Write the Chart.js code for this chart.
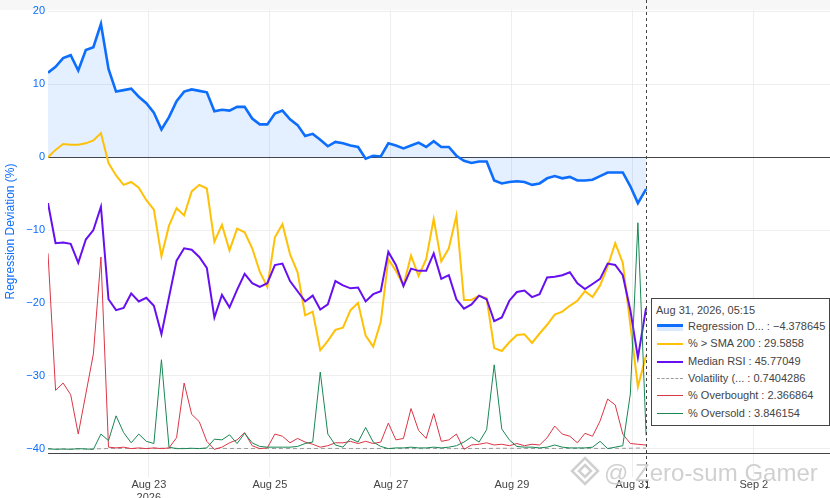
<!DOCTYPE html>
<html>
<head>
<meta charset="utf-8">
<script src="https://cdn.jsdelivr.net/npm/chart.js@4.4.1/dist/chart.umd.min.js"></script>
<style>
  body { margin: 0; background: #fff; }
  #wrap { position: relative; width: 830px; height: 498px; overflow: hidden; font-family: "Liberation Sans", Arial, sans-serif; }
  #topband { position: absolute; left: 0; top: 0; width: 830px; height: 10px; background: #f7f7f7; }
  #chart { position: absolute; left: 0; top: 0; }
  #hover { position: absolute; left: 651px; top: 298px; width: 177px; height: 126px; background: #fff;
           border: 1px solid #444; color: #444; font-size: 11px; }
  #hover .title { position: absolute; left: 4px; top: 3px; line-height: 16px; white-space: nowrap; }
  #hover .row { position: absolute; left: 0; height: 17px; line-height: 17px; white-space: nowrap; }
  #hover .sw { position: absolute; left: 5px; top: 8px; width: 26px; }
  #hover .txt { position: absolute; left: 36px; top: 0; }
  #mark { position: absolute; left: 570px; top: 456px; color: rgba(150,150,150,0.45); font-size: 24px;
          white-space: nowrap; text-shadow: 0 0 1px rgba(255,255,255,0.9); }
  #mark svg { vertical-align: -5px; margin-right: 4px; }
</style>
</head>
<body>
<div id="wrap">
  <div id="topband"></div>
  <canvas id="chart" width="830" height="498"></canvas>
  <div id="mark"><svg width="30" height="30" viewBox="0 0 30 30"><g fill="none" stroke="rgba(150,150,150,0.45)" stroke-width="2.5"><path d="M15 2 L28 15 L15 28 L2 15 Z"/><path d="M15 9 L21 15 L15 21 L9 15 Z"/></g></svg>@ Zero-sum Gamer</div>
  <div id="hover"></div>
</div>
<script>
const FONT = '"Liberation Sans", Arial, sans-serif';

// hours since Aug 21 2026 00:00, every 3h from 08:00, last point at Aug 31 05:15
const hours = [];
for (let k = 0; k < 79; k++) hours.push(8 + 3 * k);
hours.push(245.25);

const names = ["Regression Deviation (%)", "% > SMA 200", "Median RSI", "Volatility (ATR %)", "% Overbought", "% Oversold"];

const regression = [11.6,12.4,13.6,14.0,11.9,14.7,15.1,18.3,12.1,9.0,
  9.2,9.4,8.3,7.4,6.1,3.8,5.5,7.7,9.0,9.3,
  9.1,8.9,6.3,6.5,6.4,6.9,6.9,5.3,4.5,4.5,
  6.0,6.4,5.2,4.4,2.9,3.2,2.4,1.5,2.1,1.9,
  1.6,1.4,-0.2,0.2,0.1,1.9,1.6,1.2,1.6,2.0,
  1.4,2.2,1.4,1.4,0.2,-0.5,-0.8,-0.6,-0.6,-3.2,
  -3.6,-3.4,-3.3,-3.4,-3.8,-3.6,-2.9,-2.6,-2.9,-2.7,
  -3.2,-3.2,-3.1,-2.6,-2.1,-2.1,-2.1,-4.0,-6.3,-4.378645];

const aboveSma = [84.0,86.0,87.6,87.4,87.4,87.8,88.6,90.6,82.4,79.0,
  76.4,77.2,75.6,72.2,69.6,56.8,65.2,70.0,68.0,74.6,
  76.4,75.4,60.8,65.4,58.4,64.4,63.4,59.0,52.6,48.4,
  62.0,65.6,57.4,52.4,40.6,41.6,31.0,33.6,36.6,37.2,
  42.0,44.0,35.0,32.0,38.8,56.0,52.8,48.8,57.0,51.4,
  56.0,67.0,55.4,59.0,68.0,44.8,44.8,46.0,45.2,31.6,
  30.8,33.2,35.2,35.4,33.0,35.6,38.0,40.8,41.6,43.2,
  44.6,47.2,45.6,48.8,54.0,60.4,55.0,38.0,21.0,29.5858];

const medianRsi = [81.75,68.0,68.25,67.75,61.25,69.25,72.5,80.5,48.75,45.0,
  45.75,50.75,48.0,49.25,46.5,36.75,49.5,62.0,66.25,65.75,
  63.25,59.5,42.5,50.25,46.0,52.0,57.5,54.25,53.0,54.25,
  60.5,61.0,55.0,51.5,48.0,50.0,45.25,47.0,55.0,53.5,
  52.5,52.75,48.0,50.5,51.5,65.0,60.5,53.25,59.25,58.5,
  58.5,64.5,55.75,57.0,48.75,45.5,47.0,50.0,48.75,41.25,
  42.5,48.25,51.25,51.75,49.5,50.5,56.25,56.5,57.0,58.0,
  54.25,52.25,54.0,55.75,61.0,60.5,57.0,45.0,28.75,45.77049];

const volatility = [0.50,0.49,0.48,0.49,0.50,0.51,0.53,0.56,0.64,0.67,
  0.66,0.66,0.65,0.66,0.68,0.72,0.70,0.68,0.67,0.66,
  0.65,0.66,0.67,0.66,0.65,0.64,0.64,0.63,0.62,0.62,
  0.63,0.62,0.61,0.61,0.62,0.63,0.66,0.66,0.65,0.64,
  0.63,0.62,0.62,0.63,0.64,0.63,0.62,0.62,0.61,0.60,
  0.61,0.62,0.61,0.60,0.61,0.63,0.64,0.63,0.64,0.68,
  0.70,0.69,0.67,0.66,0.65,0.64,0.64,0.65,0.65,0.64,
  0.64,0.65,0.65,0.66,0.67,0.68,0.68,0.70,0.76,0.7404286];

const overbought = [81.3,24.9,27.9,23.1,6.9,23.4,39.9,79.8,1.5,1.2,
  1.5,0.9,1.2,0.9,1.2,0.9,1.2,5.4,27.9,15.0,
  12.0,3.9,0.6,1.5,3.3,4.5,7.5,2.1,0.9,1.2,
  6.9,6.0,3.3,5.1,3.6,2.7,1.5,2.1,3.3,3.3,
  3.9,3.0,3.9,3.0,3.6,11.4,4.5,5.1,17.4,8.4,
  5.1,15.3,3.9,4.5,6.9,0.6,2.4,2.7,3.3,2.4,
  2.7,2.1,3.0,2.1,2.7,2.4,5.4,10.2,6.9,6.0,
  3.3,7.2,6.0,12.3,21.3,18.9,6.9,3.0,2.7,2.366864];

const oversold = [0.2,0.0,0.1,0.0,0.2,0.1,0.0,4.2,2.4,9.2,
  4.6,1.8,4.2,2.2,1.6,24.6,0.6,0.2,0.2,0.3,
  0.2,0.4,2.8,2.6,4.0,1.6,4.4,1.8,0.8,0.6,
  0.6,0.6,0.6,0.8,1.6,2.0,21.2,4.2,1.2,0.6,
  3.0,2.0,6.0,2.0,0.8,0.2,0.4,0.4,0.6,0.4,
  0.4,0.6,0.4,0.6,1.0,2.0,3.4,2.0,5.4,23.2,
  5.6,2.6,0.8,0.6,0.6,0.4,0.6,1.2,0.6,0.4,
  0.4,0.4,0.6,2.2,0.2,0.6,1.0,15.2,62.2,3.846154];

const yTicks = [-40, -30, -20, -10, 0, 10, 20];
const xTickHours = [48, 96, 144, 192, 240, 288];   // Aug 23 .. Sep 2

const Y_MIN = -40.6, Y_MAX = 20.2;
const X_MIN = 8, X_MAX = 318.2;

// overlaid hidden axes: shown value = offset + scale * series value
const overlay = {
  ySma: { offset: -42, scale: 0.5 },
  yRsi: { offset: -39, scale: 0.4 },
  yVol: { offset: -40.3, scale: 0.5 },
  yOb:  { offset: -40.3, scale: 1 / 3 },
  yOs:  { offset: -40.1, scale: 0.5 }
};

const MONTHS = ["Jan","Feb","Mar","Apr","May","Jun","Jul","Aug","Sep","Oct","Nov","Dec"];
function toDate(h) { return new Date(Date.UTC(2026, 7, 21) + h * 3600000); }
function dayLabel(h) { const d = toDate(h); return MONTHS[d.getUTCMonth()] + " " + d.getUTCDate(); }
function pad(n) { return String(n).padStart(2, "0"); }
function fmtNum(v) { return String(parseFloat(v.toPrecision(7))).replace("-", "\u2212"); }

function pts(arr) { return arr.map((v, i) => ({ x: hours[i], y: v })); }

const hiddenScales = {};
Object.keys(overlay).forEach(id => {
  const m = overlay[id];
  hiddenScales[id] = { display: false, type: "linear", min: (Y_MIN - m.offset) / m.scale, max: (Y_MAX - m.offset) / m.scale };
});

const spikeLine = {
  id: "spikeLine",
  afterDraw(chart) {
    const ctx = chart.ctx;
    const x = Math.round(chart.scales.x.getPixelForValue(hours[hours.length - 1])) + 0.5;
    ctx.save();
    ctx.strokeStyle = "#444";
    ctx.lineWidth = 1;
    ctx.setLineDash([3, 3]);
    ctx.beginPath();
    ctx.moveTo(x, 0);
    ctx.lineTo(x, 490);
    ctx.stroke();
    ctx.restore();
  }
};

new Chart(document.getElementById("chart"), {
  type: "line",
  data: {
    datasets: [
      { label: names[0], data: pts(regression), yAxisID: "y", borderColor: "#0d6efd", borderWidth: 2.6,
        fill: "origin", backgroundColor: "rgba(13,110,253,0.11)", order: 6 },
      { label: names[1], data: pts(aboveSma), yAxisID: "ySma", borderColor: "#ffc107", borderWidth: 2, order: 5 },
      { label: names[2], data: pts(medianRsi), yAxisID: "yRsi", borderColor: "#6610f2", borderWidth: 2, order: 4 },
      { label: names[3], data: pts(volatility), yAxisID: "yVol", borderColor: "#9a9a9a", borderWidth: 1,
        borderDash: [4, 3], order: 3 },
      { label: names[4], data: pts(overbought), yAxisID: "yOb", borderColor: "#dc3545", borderWidth: 1, order: 2 },
      { label: names[5], data: pts(oversold), yAxisID: "yOs", borderColor: "#198754", borderWidth: 1, order: 1 }
    ]
  },
  options: {
    responsive: false,
    animation: false,
    layout: { padding: { top: 10, right: 0, bottom: 0, left: 0 } },
    elements: { point: { radius: 0 }, line: { tension: 0 } },
    plugins: { legend: { display: false }, tooltip: { enabled: false } },
    scales: Object.assign({
      x: {
        type: "linear", min: X_MIN, max: X_MAX,
        afterBuildTicks: s => { s.ticks = xTickHours.map(v => ({ value: v })); },
        afterFit: s => { s.height = 45; },
        grid: { color: "#eeeeee", tickColor: "#eeeeee", tickLength: 24, drawTicks: true },
        border: { display: true, color: "#444", width: 1 },
        ticks: {
          color: "#444", font: { family: FONT, size: 11 }, padding: 1, maxRotation: 0, autoSkip: false,
          callback: (v, i) => i === 0 ? [dayLabel(v), "2026"] : dayLabel(v)
        }
      },
      y: {
        type: "linear", min: Y_MIN, max: Y_MAX,
        afterBuildTicks: s => { s.ticks = yTicks.map(v => ({ value: v })); },
        afterFit: s => { s.width = 48; },
        grid: { color: c => (c.tick && c.tick.value === 0) ? "#444" : "#eeeeee", drawTicks: false },
        border: { display: false },
        ticks: { color: "#0d6efd", font: { family: FONT, size: 11 }, padding: 3,
                 callback: v => v < 0 ? "\u2212" + (-v) : String(v) },
        title: { display: true, text: "Regression Deviation (%)", color: "#0d6efd",
                 font: { family: FONT, size: 12 }, padding: { top: 3, bottom: 0 } }
      }
    }, hiddenScales)
  },
  plugins: [spikeLine]
});

// hover label at the last point
const series = [regression, aboveSma, medianRsi, volatility, overbought, oversold];
const swatches = [
  '<div class="sw" style="top:6px;height:3px;background:#0d6efd"></div><div class="sw" style="top:9px;height:4px;background:rgba(13,110,253,0.15)"></div>',
  '<div class="sw" style="height:2px;background:#ffc107"></div>',
  '<div class="sw" style="height:2px;background:#6610f2"></div>',
  '<div class="sw" style="height:0;border-top:1px dashed #9a9a9a"></div>',
  '<div class="sw" style="height:1px;background:#dc3545"></div>',
  '<div class="sw" style="height:1px;background:#198754"></div>'
];
const lastH = hours[hours.length - 1];
const ld = toDate(lastH);
let html = '<div class="title">' + dayLabel(lastH) + ", " + ld.getUTCFullYear() + ", " +
  pad(ld.getUTCHours()) + ":" + pad(ld.getUTCMinutes()) + "</div>";
names.forEach((n, i) => {
  const shown = n.length > 15 ? n.slice(0, 12) + "..." : n;
  const v = series[i][series[i].length - 1];
  html += '<div class="row" style="top:' + (19 + i * 17.3) + 'px;width:177px">' + swatches[i] +
    '<span class="txt">' + shown + " : " + fmtNum(v) + "</span></div>";
});
document.getElementById("hover").innerHTML = html;
</script>
</body>
</html>
